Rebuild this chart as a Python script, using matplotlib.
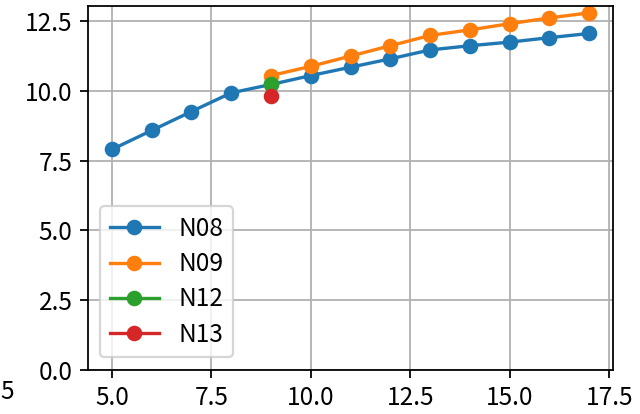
import matplotlib
matplotlib.use("Agg")
import matplotlib.pyplot as plt
from matplotlib.ticker import MultipleLocator

plt.rcParams["font.family"] = ["Noto Sans CJK JP", "DejaVu Sans"]
plt.rcParams["font.size"] = 11

# series
x_n08 = [5, 6, 7, 8, 9, 10, 11, 12, 13, 14, 15, 16, 17]
y_n08 = [7.90, 8.58, 9.26, 9.93, 10.23, 10.55, 10.85, 11.15, 11.47, 11.62, 11.75, 11.91, 12.06]

x_n09 = [9, 10, 11, 12, 13, 14, 15, 16, 17]
y_n09 = [10.55, 10.88, 11.25, 11.62, 11.99, 12.19, 12.41, 12.62, 12.80]

x_n12 = [9]
y_n12 = [10.24]

x_n13 = [9]
y_n13 = [9.80]

series = [
    ("N08", x_n08, y_n08),
    ("N09", x_n09, y_n09),
    ("N12", x_n12, y_n12),
    ("N13", x_n13, y_n13),
]

fig, ax = plt.subplots(figsize=(4.0, 2.5875), dpi=160)
fig.subplots_adjust(left=0.1375, right=0.958, bottom=0.107, top=0.9855)

for name, xs, ys in series:
    ax.plot(xs, ys, marker="o", label=name)

ax.set_ylim(bottom=0)
ax.xaxis.set_major_locator(MultipleLocator(2.5))
ax.yaxis.set_major_locator(MultipleLocator(2.5))
ax.grid(True)
ax.legend(loc="lower left", labelspacing=0.38)

# stray tick label fragment from a neighbouring panel at the left edge
fig.text(0.0, 1 - 392 / 414, "5", ha="left", va="center", fontsize=11)

fig.savefig("out.png", dpi=160)
